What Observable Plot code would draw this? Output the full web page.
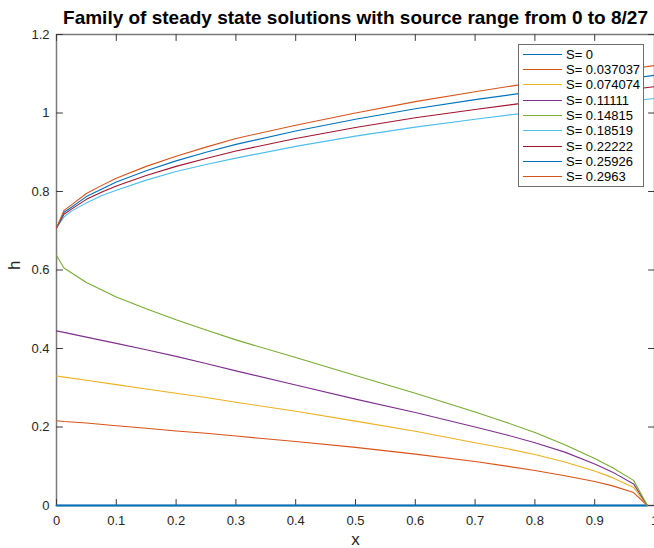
<!DOCTYPE html>
<html><head><meta charset="utf-8">
<script src="https://cdn.jsdelivr.net/npm/d3@7"></script>
<script src="https://cdn.jsdelivr.net/npm/@observablehq/plot@0.6"></script>
<style>
html,body{margin:0;padding:0;background:#fff;}
#wrap{position:relative;width:654px;height:548px;font-family:"Liberation Sans",Arial,Helvetica,sans-serif;overflow:hidden;}
#wrap svg{display:block;}
#legend{position:absolute;left:518px;top:44px;width:124px;height:141px;background:#fff;border:1px solid #6e6e6e;}
.row{position:absolute;left:0;height:15px;display:flex;align-items:center;font-size:13px;color:#000;white-space:nowrap;}
.sample{margin-left:4px;width:39px;height:0;}
.lab{margin-left:4px;}
</style></head><body><div id="wrap"></div>
<script>
const title = "Family of steady state solutions with source range from 0 to 8/27";
const xLabel = "x";
const yLabel = "h";
const xTicks = [0, 0.1, 0.2, 0.3, 0.4, 0.5, 0.6, 0.7, 0.8, 0.9, 1];
const xTickLabels = ["0", "0.1", "0.2", "0.3", "0.4", "0.5", "0.6", "0.7", "0.8", "0.9", "1"];
const yTicks = [0, 0.2, 0.4, 0.6, 0.8, 1, 1.2];
const yTickLabels = ["0", "0.2", "0.4", "0.6", "0.8", "1", "1.2"];

const seriesLabels = ["S= 0", "S= 0.037037", "S= 0.074074", "S= 0.11111", "S= 0.14815", "S= 0.18519", "S= 0.22222", "S= 0.25926", "S= 0.2963"];
const seriesColors = ["#0072BD", "#D95319", "#EDB120", "#7E2F8E", "#77AC30", "#4DBEEE", "#A2142F", "#0072BD", "#D95319"];

// S = 0 (flat)
const xZero = [0, 0.988];
const hS0 = [0, 0];

// lower branch (S = 1/27 .. 4/27)
const xLower = [0, 0.0125, 0.05, 0.1, 0.15, 0.2, 0.25, 0.3, 0.4, 0.5, 0.6, 0.7, 0.75, 0.8, 0.85, 0.9, 0.93, 0.965, 0.988];
const hS1 = [0.216, 0.214, 0.210, 0.203, 0.197, 0.190, 0.184, 0.177, 0.163, 0.148, 0.131, 0.112, 0.101, 0.089, 0.076, 0.061, 0.050, 0.033, 0];
const hS2 = [0.330, 0.327, 0.319, 0.308, 0.297, 0.286, 0.275, 0.263, 0.240, 0.215, 0.189, 0.160, 0.146, 0.130, 0.111, 0.088, 0.071, 0.046, 0];
const hS3 = [0.445, 0.441, 0.429, 0.413, 0.397, 0.380, 0.362, 0.343, 0.307, 0.271, 0.237, 0.200, 0.181, 0.160, 0.136, 0.106, 0.085, 0.055, 0];
const hS4 = [0.637, 0.605, 0.568, 0.531, 0.501, 0.473, 0.447, 0.422, 0.377, 0.331, 0.286, 0.238, 0.213, 0.186, 0.155, 0.120, 0.096, 0.064, 0];

// upper branch (S = 5/27 .. 8/27)
const xUpper = [0, 0.0125, 0.025, 0.05, 0.075, 0.1, 0.15, 0.2, 0.25, 0.3, 0.4, 0.5, 0.6, 0.7, 0.8, 0.9, 1.0];
const hS5 = [0.707, 0.735, 0.750, 0.771, 0.789, 0.803, 0.829, 0.851, 0.869, 0.885, 0.915, 0.941, 0.964, 0.984, 1.003, 1.020, 1.037];
const hS6 = [0.707, 0.742, 0.755, 0.780, 0.798, 0.814, 0.841, 0.864, 0.884, 0.903, 0.935, 0.963, 0.988, 1.009, 1.029, 1.049, 1.067];
const hS7 = [0.707, 0.747, 0.760, 0.787, 0.806, 0.824, 0.853, 0.878, 0.900, 0.920, 0.954, 0.984, 1.011, 1.034, 1.055, 1.076, 1.096];
const hS8 = [0.707, 0.752, 0.766, 0.795, 0.815, 0.834, 0.864, 0.890, 0.913, 0.935, 0.969, 1.000, 1.029, 1.054, 1.078, 1.100, 1.121];

const seriesX = [xZero, xLower, xLower, xLower, xLower, xUpper, xUpper, xUpper, xUpper];
const seriesH = [hS0, hS1, hS2, hS3, hS4, hS5, hS6, hS7, hS8];

const rows = [];
seriesH.forEach((hs, k) => {
  hs.forEach((h, i) => rows.push({s: k, label: seriesLabels[k], x: seriesX[k][i], h}));
});

const tickShape = {draw(context, l) { context.moveTo(0, 0); context.lineTo(0, -l); }};
const tickStyle = {length: 6, anchor: "start", shape: tickShape, stroke: "#3a3a3a", strokeWidth: 1};

const chart = Plot.plot({
  width: 654, height: 548,
  marginLeft: 56, marginRight: 0, marginTop: 34, marginBottom: 43,
  x: {domain: [0, 1]},
  y: {domain: [0, 1.2]},
  color: {type: "identity"},
  style: {fontFamily: '"Liberation Sans", Arial, Helvetica, sans-serif', fontSize: "13px", background: "white", color: "#262626"},
  marks: [
    Plot.frame({stroke: "#7a7a7a", strokeWidth: 1.5}),
    Plot.vectorX(xTicks, {...tickStyle, frameAnchor: "bottom", rotate: 0}),
    Plot.vectorX(xTicks, {...tickStyle, frameAnchor: "top", rotate: 180}),
    Plot.vectorY(yTicks, {...tickStyle, frameAnchor: "left", rotate: 90}),
    Plot.vectorY(yTicks, {...tickStyle, frameAnchor: "right", rotate: -90}),
    Plot.axisX({ticks: xTicks, tickSize: 0, tickPadding: 10, tickFormat: (d) => xTickLabels[xTicks.indexOf(d)], label: null, fill: "#262626"}),
    Plot.axisY({ticks: yTicks, tickSize: 0, tickPadding: 7, tickFormat: (d) => yTickLabels[yTicks.indexOf(d)], label: null, fill: "#262626"}),
    Plot.line(rows, {x: "x", y: "h", z: "s", stroke: d => seriesColors[d.s], strokeWidth: d => d.s === 0 ? 1.8 : 1.1}),
    Plot.text([title], {frameAnchor: "top", lineAnchor: "middle", dy: -17, fontWeight: "bold", fontSize: 19, fill: "#000"}),
    Plot.text([xLabel], {frameAnchor: "bottom", lineAnchor: "middle", dy: 34, fontSize: 17, fill: "#262626"}),
    Plot.text([yLabel], {frameAnchor: "left", lineAnchor: "middle", dx: -42, rotate: -90, fontSize: 17, fill: "#262626"})
  ]
});
const wrap = document.getElementById("wrap");
wrap.appendChild(chart);

const legend = document.createElement("div");
legend.id = "legend";
seriesLabels.forEach((lab, i) => {
  const r = document.createElement("div");
  r.className = "row";
  r.style.top = (1.8 + i * 15.33) + "px";
  const s = document.createElement("div");
  s.className = "sample";
  s.style.borderTop = (i === 0 || i === 7 ? "1.6px" : "1.1px") + " solid " + seriesColors[i];
  const t = document.createElement("span");
  t.className = "lab";
  t.textContent = lab;
  r.appendChild(s); r.appendChild(t);
  legend.appendChild(r);
});
wrap.appendChild(legend);
</script>
</body></html>
